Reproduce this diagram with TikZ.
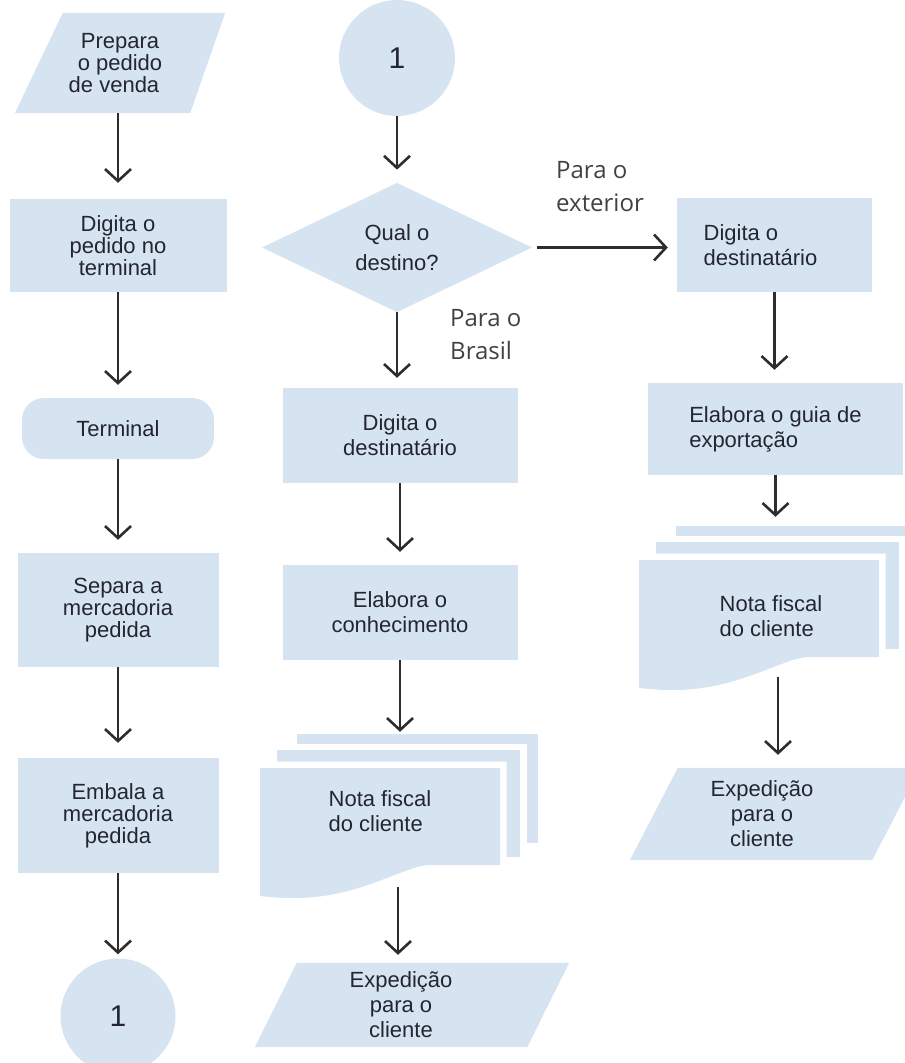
\documentclass[tikz,border=0pt]{standalone}
\usepackage{fontspec}
\setmainfont{Liberation Sans}
\newfontfamily\labelfont{Open Sans}
\usetikzlibrary{arrows.meta,shapes.geometric,calc,backgrounds}
\definecolor{boxfill}{RGB}{214,228,242}
\definecolor{txtc}{RGB}{35,38,48}
\definecolor{arrc}{RGB}{45,45,45}
\definecolor{lblc}{RGB}{65,65,65}
\begin{document}
\begin{tikzpicture}[x=1pt,y=-1pt,
  every node/.style={text=txtc, inner sep=0pt, font=\fontsize{22}{22}\selectfont},
  invis/.style={align=center},
  rbox/.style={fill=boxfill, align=center},
  midtxt/.style={font=\fontsize{22}{25}\selectfont},
  sheet/.style={fill=boxfill, preaction={draw=white, line width=13pt}},
  conn/.style={circle, fill=boxfill, minimum size=#1, font=\fontsize{30}{30}\selectfont},
  arr/.style={draw=arrc, line width=2.6pt, -{Straight Barb[length=12pt,width=26pt]}},
  lbl/.style={font=\labelfont\fontsize{24}{33}\selectfont, text=lblc, align=left, anchor=west}]
\useasboundingbox (0,0) rectangle (905,1063);

% ---------- left column ----------
\node[invis, minimum width=210pt, minimum height=100pt] (p1) at (120,63) {Prepara\\o pedido\\de venda\hspace*{12pt}};
\node[rbox, minimum width=217pt, minimum height=93pt] (r1) at (118,245.5) {Digita o\\pedido no\\terminal};
\node[rbox, rounded corners=22pt, minimum width=192pt, minimum height=61pt] (term) at (118,428.5) {Terminal};
\node[rbox, minimum width=201pt, minimum height=114pt] (r2) at (118,610) {Separa a\\mercadoria\\pedida};
\node[rbox, minimum width=201pt, minimum height=115pt] (r3) at (118,815.5) {Embala a\\mercadoria\\pedida};
\node[conn=115pt] (c1) at (118,1016) {1};

% ---------- middle column ----------
\node[conn=116pt] (c2) at (397,58) {1};
\node[diamond, fill=boxfill, minimum width=270pt, minimum height=125pt, align=center,
      font=\fontsize{22}{30}\selectfont] (d) at (397,247.5) {Qual o\\destino?};
\node[rbox, midtxt, minimum width=235pt, minimum height=95pt] (r4) at (400,435.5) {Digita o\\destinatário};
\node[rbox, midtxt, minimum width=235pt, minimum height=95pt] (r5) at (400,612.5) {Elabora o\\conhecimento};

% document stack (middle)
\node[sheet, minimum width=241pt, minimum height=109pt] (dk1back) at (417.5,788.5) {};
\node[sheet, minimum width=243pt, minimum height=107pt] (dk1mid) at (398.5,803.5) {};
\path[fill=boxfill, preaction={draw=white, line width=13pt}]
  (260,768) -- (500,768) -- (500,865) -- (430,865)
  .. controls (405,865) and (360,898) .. (295,898)
  .. controls (280,898) and (268,897) .. (260,896) -- cycle;
\node[invis, midtxt, align=left, minimum width=240pt, minimum height=90pt] (doc1) at (380,811) {Nota fiscal\\do cliente};
\coordinate (doc1out) at (398,887);

\node[invis, midtxt, minimum width=292pt, minimum height=84pt] (p2) at (401,1005) {Expedição\\para o\\cliente};

% ---------- right column ----------
\node[rbox, midtxt, align=left, minimum width=195pt, minimum height=94pt] (r6) at (774.5,245) {Digita o\\destinatário\hspace*{28pt}};
\node[rbox, midtxt, align=left, minimum width=255pt, minimum height=92pt] (r7) at (775.5,429) {Elabora o guia de\\exportação};

% document stack (right)
\node[sheet, minimum width=241pt, minimum height=109pt] (dk2back) at (796.5,580.5) {};
\node[sheet, minimum width=243pt, minimum height=107pt] (dk2mid) at (777.5,595.5) {};
\path[fill=boxfill, preaction={draw=white, line width=13pt}]
  (639,560) -- (879,560) -- (879,657) -- (809,657)
  .. controls (784,657) and (739,690) .. (674,690)
  .. controls (659,690) and (647,689) .. (639,688) -- cycle;
\node[invis, midtxt, align=left, minimum width=240pt, minimum height=90pt] (doc2) at (771,616) {Nota fiscal\\do cliente};
\coordinate (doc2out) at (778,677);

\node[invis, midtxt, minimum width=264pt, minimum height=92pt] (p3) at (762,814) {Expedição\\para o\\cliente};

% ---------- labels ----------
\node[lbl] (lext) at (556,187) {Para o\\exterior};
\node[lbl] (lbr) at (450,335) {Para o\\Brasil};

% ---------- parallelogram fills ----------
\begin{scope}[on background layer]
  \fill[boxfill] ($(p1.north west)+(48,0)$) -- (p1.north east) -- ($(p1.south east)+(-35,0)$) -- (p1.south west) -- cycle;
  \fill[boxfill] ($(p2.north west)+(42,0)$) -- ($(p2.north east)+(22,0)$) -- ($(p2.south east)+(-20,0)$) -- (p2.south west) -- cycle;
  \fill[boxfill] ($(p3.north west)+(48,0)$) -- ($(p3.north east)+(26,0)$) -- ($(p3.south east)+(-22,0)$) -- (p3.south west) -- cycle;
\end{scope}

% ---------- connectors ----------
\draw[arr, shorten >=16pt] (p1.south -| r1.north) -- (r1.north);
\draw[arr, shorten >=13pt] (r1.south) -- (term.north);
\draw[arr, shorten >=13pt] (term.south) -- (r2.north);
\draw[arr, shorten >=15pt] (r2.south) -- (r3.north);
\draw[arr, shorten >=4pt] (r3.south) -- (c1.north);

\draw[arr, shorten >=13pt] (c2.south) -- (d.north);
\draw[arr, shorten >=10pt] (d.south) -- (d.south |- r4.north);
\draw[arr, shorten <=5pt, shorten >=9pt] (d.east) -- (d.east -| r6.west);
\draw[arr, shorten >=13pt] (r4.south) -- (r5.north);
\draw[arr, shorten >=2pt] (r5.south) -- (r5.south |- dk1back.north);
\draw[arr, shorten >=8pt] (doc1out) -- (doc1out |- p2.north);

\draw[arr, shorten >=13pt] (r6.south) -- (r6.south |- r7.north);
\draw[arr, shorten >=9pt] (r7.south) -- (r7.south |- dk2back.north);
\draw[arr, shorten >=13pt] (doc2out) -- (doc2out |- p3.north);
\end{tikzpicture}
\end{document}
